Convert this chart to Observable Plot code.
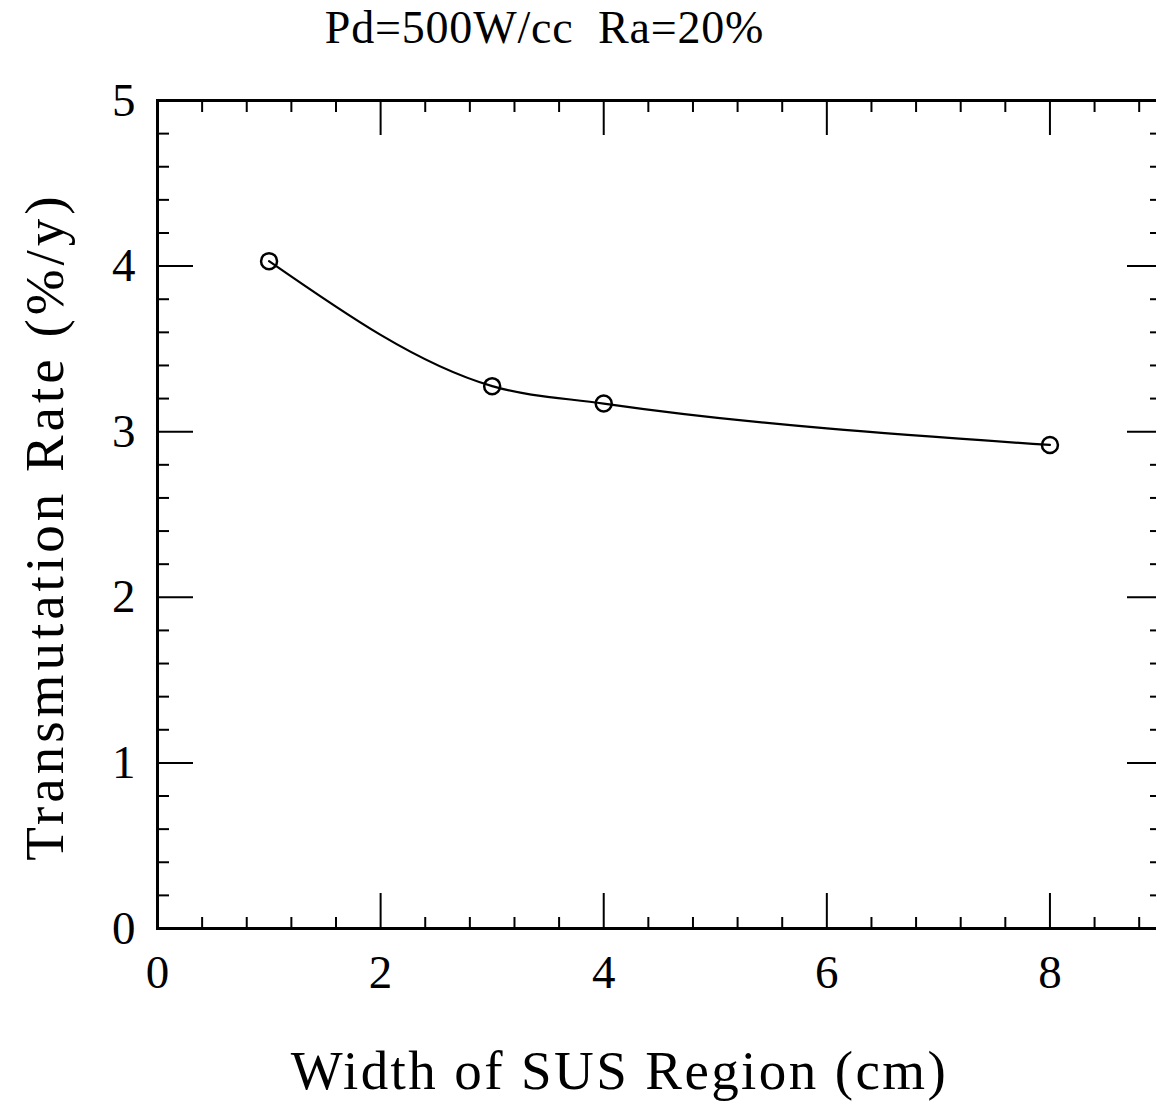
<!DOCTYPE html>
<html>
<head>
<meta charset="utf-8">
<script src="https://cdn.jsdelivr.net/npm/d3@7"></script>
<script src="https://cdn.jsdelivr.net/npm/@observablehq/plot@0.6"></script>
<style>
  html, body { margin: 0; padding: 0; background: #fff; overflow: hidden; }
</style>
</head>
<body>
<div id="chart"></div>
<script>
const titleText = "Pd=500W/cc  Ra=20%";
const xLabel = "Width of SUS Region (cm)";
const yLabel = "Transmutation Rate (%/y)";

const widthCm = [1, 3, 4, 8];
const rate = [4.03, 3.275, 3.17, 2.92];

const xMajor = [0, 2, 4, 6, 8];
const xMinor = [0.4, 0.8, 1.2, 1.6, 2.4, 2.8, 3.2, 3.6, 4.4, 4.8, 5.2, 5.6, 6.4, 6.8, 7.2, 7.6, 8.4, 8.8];
const yMajor = [0, 1, 2, 3, 4, 5];
const yMinor = [0.2, 0.4, 0.6, 0.8, 1.2, 1.4, 1.6, 1.8, 2.2, 2.4, 2.6, 2.8, 3.2, 3.4, 3.6, 3.8, 4.2, 4.4, 4.6, 4.8];

const data = widthCm.map((x, i) => ({x, y: rate[i]}));
const font = "Liberation Serif, Times New Roman, serif";
const blank = () => "";

const chart = Plot.plot({
  width: 1156,
  height: 1109,
  marginLeft: 157,
  marginRight: -5,
  marginTop: 100,
  marginBottom: 181,
  style: {fontFamily: font, background: "#fff", color: "#000"},
  x: {domain: [0, 9]},
  y: {domain: [0, 5]},
  marks: [
    // tick marks (inward)
    Plot.axisX({anchor: "bottom", ticks: xMajor, tickSize: -35, tickFormat: blank, strokeWidth: 2, label: null}),
    Plot.axisX({anchor: "bottom", ticks: xMinor, tickSize: -11, tickFormat: blank, strokeWidth: 2, label: null}),
    Plot.axisX({anchor: "top", ticks: xMajor, tickSize: -34, tickFormat: blank, strokeWidth: 2, label: null}),
    Plot.axisX({anchor: "top", ticks: xMinor, tickSize: -11, tickFormat: blank, strokeWidth: 2, label: null}),
    Plot.axisY({anchor: "left", ticks: yMajor, tickSize: -36, tickFormat: blank, strokeWidth: 2, label: null}),
    Plot.axisY({anchor: "left", ticks: yMinor, tickSize: -12, tickFormat: blank, strokeWidth: 2, label: null}),
    Plot.axisY({anchor: "right", ticks: yMajor, tickSize: -35, tickFormat: blank, strokeWidth: 2, label: null}),
    Plot.axisY({anchor: "right", ticks: yMinor, tickSize: -12, tickFormat: blank, strokeWidth: 2, label: null}),
    // tick labels
    Plot.axisX({anchor: "bottom", ticks: xMajor, tickSize: 0, tickPadding: 26, fontSize: 47, label: null, tickFormat: d => String(d)}),
    Plot.axisY({anchor: "left", ticks: yMajor, tickSize: 0, tickPadding: 22, fontSize: 47, label: null, tickFormat: d => String(d)}),
    Plot.frame({stroke: "#000", strokeWidth: 3}),
    Plot.line(data, {x: "x", y: "y", curve: "monotone-x", stroke: "#000", strokeWidth: 2.2}),
    Plot.dot(data, {x: "x", y: "y", r: 8, stroke: "#000", strokeWidth: 2.5, fill: "none"}),
    Plot.text([titleText], {frameAnchor: "top", dx: -115, dy: -72, fontSize: 46, lineAnchor: "middle", fill: "#000"}),
    Plot.text([xLabel], {frameAnchor: "bottom", dx: -40, dy: 143, fontSize: 55, lineAnchor: "middle", textAnchor: "middle", fill: "#000"}),
    Plot.text([yLabel], {frameAnchor: "left", dx: -112, dy: 12, rotate: -90, fontSize: 55, lineAnchor: "middle", textAnchor: "middle", fill: "#000"})
  ]
});
// letter spacing to mimic the wide monospaced lettering of the original
const spacing = new Map([[titleText, "0.8px"], [xLabel, "2.4px"], [yLabel, "4px"]]);
d3.select(chart).selectAll("text").each(function() {
  const s = spacing.get(this.textContent);
  if (s) this.setAttribute("letter-spacing", s);
});
document.getElementById("chart").appendChild(chart);
</script>
</body>
</html>
